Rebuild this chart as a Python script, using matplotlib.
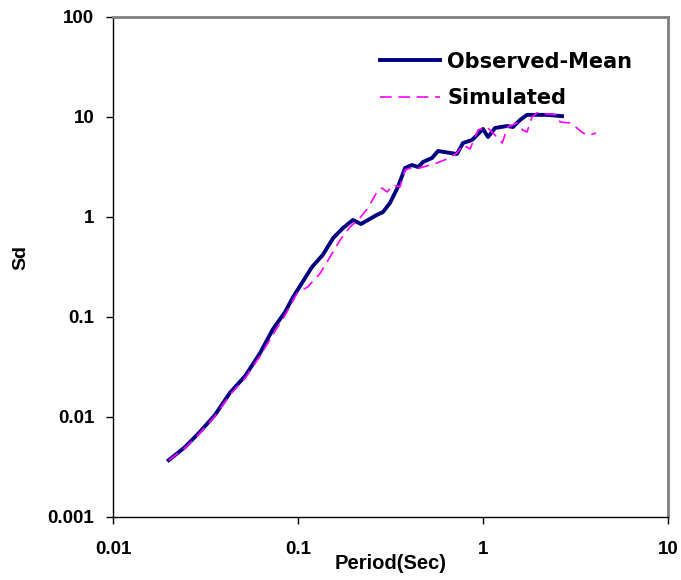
import matplotlib
matplotlib.use("Agg")
import matplotlib.pyplot as plt
from matplotlib.ticker import FixedLocator, NullLocator, FixedFormatter

plt.rcParams['font.family'] = ['Liberation Sans', 'DejaVu Sans']

# Observed mean spectral displacement
obs_period = [0.020, 0.0245, 0.0295, 0.0356, 0.0428, 0.0518, 0.0624, 0.0733, 0.0851, 0.094,
              0.119, 0.136, 0.155, 0.175, 0.198, 0.219, 0.267, 0.288, 0.314, 0.347,
              0.379, 0.413, 0.446, 0.474, 0.530, 0.571, 0.664, 0.723, 0.780, 0.873,
              0.929, 1.0, 1.064, 1.161, 1.349, 1.452, 1.585, 1.729, 2.218, 2.674]
obs_sd = [0.0037, 0.0050, 0.0071, 0.0105, 0.0174, 0.0257, 0.0437, 0.0759, 0.112, 0.158,
          0.316, 0.417, 0.617, 0.776, 0.933, 0.851, 1.05, 1.12, 1.38, 2.0,
          3.09, 3.31, 3.16, 3.55, 3.89, 4.57, 4.37, 4.27, 5.50, 5.89,
          6.61, 7.59, 6.31, 7.76, 8.13, 7.94, 9.33, 10.5, 10.5, 10.2]

# Simulated spectral displacement
sim_period = [0.020, 0.0245, 0.0295, 0.0356, 0.0428, 0.0518, 0.0624, 0.0752, 0.0851, 0.099,
              0.113, 0.132, 0.149, 0.169, 0.191, 0.216, 0.239, 0.267, 0.284, 0.303,
              0.327, 0.356, 0.379, 0.419, 0.456, 0.564, 0.638, 0.723, 0.780, 0.851,
              0.940, 1.05, 1.13, 1.20, 1.27, 1.36, 1.53, 1.64, 1.73, 1.84,
              1.96, 2.51, 2.61, 2.95, 3.22, 3.47, 3.79, 4.08]
sim_sd = [0.0037, 0.0049, 0.0069, 0.0102, 0.0166, 0.0245, 0.0407, 0.0724, 0.104, 0.174,
          0.200, 0.275, 0.398, 0.589, 0.794, 0.977, 1.23, 1.78, 1.95, 1.78,
          2.09, 2.0, 2.95, 3.16, 3.09, 3.47, 3.80, 4.37, 5.25, 4.79,
          7.41, 7.94, 6.92, 6.17, 5.50, 7.94, 8.71, 7.41, 7.08, 10.0,
          11.0, 10.5, 8.91, 8.71, 7.76, 6.92, 6.61, 6.92]

x_ticks = [0.01, 0.1, 1, 10]
x_labels = ['0.01', '0.1', '1', '10']
y_ticks = [0.001, 0.01, 0.1, 1, 10, 100]
y_labels = ['0.001', '0.01', '0.1', '1', '10', '100']

fig = plt.figure(figsize=(6.81, 5.80), dpi=100)
ax = fig.add_axes([113 / 681, 1 - 517 / 580, 555 / 681, 500 / 580])

ax.plot(obs_period, obs_sd, color='#000080', lw=2.8, label='Observed-Mean', zorder=2)
ax.plot(sim_period, sim_sd, color='#FF00FF', lw=1.2, dashes=(7, 4), label='Simulated', zorder=3)

ax.set_xscale('log')
ax.set_yscale('log')
ax.set_xlim(0.01, 10)
ax.set_ylim(0.001, 100)

ax.xaxis.set_major_locator(FixedLocator(x_ticks))
ax.xaxis.set_major_formatter(FixedFormatter(x_labels))
ax.yaxis.set_major_locator(FixedLocator(y_ticks))
ax.yaxis.set_major_formatter(FixedFormatter(y_labels))
ax.xaxis.set_minor_locator(NullLocator())
ax.yaxis.set_minor_locator(NullLocator())
ax.tick_params(axis='both', which='major', direction='out', length=5, width=1, labelsize=13.5)
ax.tick_params(axis='x', pad=12)
ax.tick_params(axis='y', pad=8.5)
for lbl in ax.get_xticklabels() + ax.get_yticklabels():
    lbl.set_fontweight('bold')

for side in ['top', 'right']:
    ax.spines[side].set_color('#808080')
    ax.spines[side].set_linewidth(2)
for side in ['left', 'bottom']:
    ax.spines[side].set_color('black')
    ax.spines[side].set_linewidth(1)

ax.set_xlabel('Period(Sec)', fontsize=14.5, fontweight='bold')
ax.set_ylabel('Sd', fontsize=14, fontweight='bold')
ax.xaxis.set_label_coords(0.5, -0.074)
ax.yaxis.set_label_coords(-0.15, 0.518)

ax.legend(loc='upper left', bbox_to_anchor=(0.481, 0.931), frameon=False,
          prop={'family': 'DejaVu Sans', 'size': 15, 'weight': 'bold'},
          handlelength=2.9, handletextpad=0.33, labelspacing=0.8,
          borderpad=0, borderaxespad=0)

fig.savefig('out.png', dpi=100)
